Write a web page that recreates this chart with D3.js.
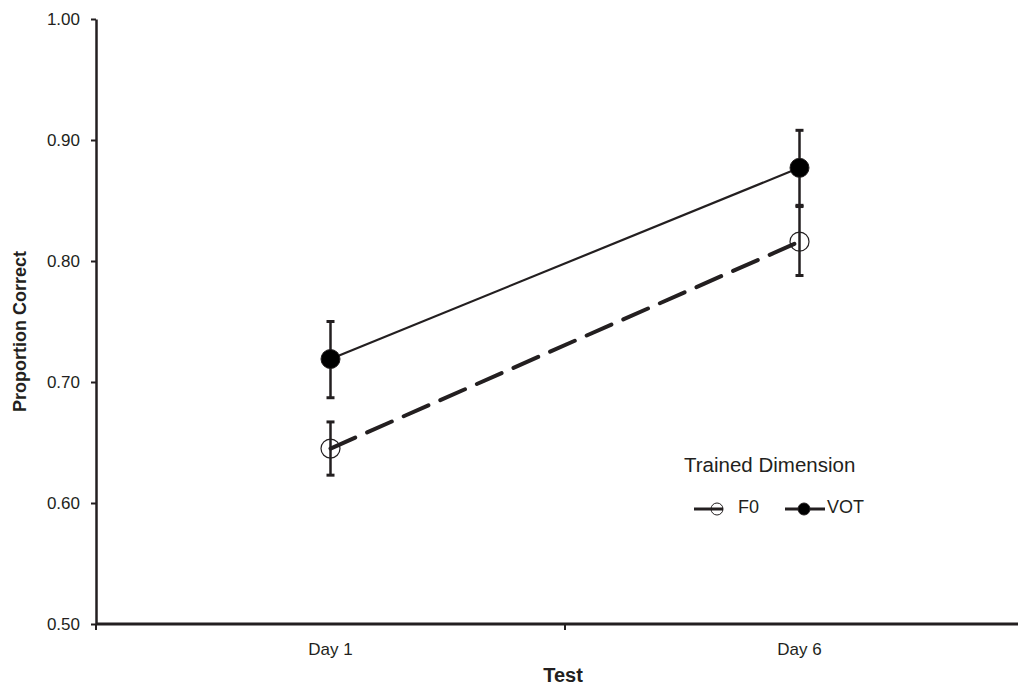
<!DOCTYPE html>
<html>
<head>
<meta charset="utf-8">
<script src="https://cdn.jsdelivr.net/npm/d3@7"></script>
<style>
  body { margin: 0; background: #fff; }
  svg text { font-family: "Liberation Sans", Arial, sans-serif; fill: #231f20; }
</style>
</head>
<body>
<div id="chart"></div>
<script>
// chart data
var days = ["Day 1", "Day 6"];
var seriesNames = ["F0", "VOT"];
var f0Mean = [0.645, 0.816];
var f0Upper = [0.667, 0.845];
var f0Lower = [0.623, 0.788];
var votMean = [0.719, 0.877];
var votUpper = [0.750, 0.908];
var votLower = [0.687, 0.846];
var yTicks = [0.50, 0.60, 0.70, 0.80, 0.90, 1.00];

var width = 1018;
var height = 686;
var margin = {top: 19, bottom: 62, left: 96, right: -16};

var svg = d3.select('#chart')
    .append('svg')
    .attr('width', width)
    .attr('height', height);

var innerW = width - margin.left - margin.right;
var innerH = height - margin.top - margin.bottom;

var g = svg.append('g')
    .attr('transform', 'translate(' + margin.left + ',' + margin.top + ')');

var x = d3.scaleBand()
    .domain(days)
    .range([0, innerW])
    .padding(0);

var y = d3.scaleLinear()
    .domain([0.5, 1.0])
    .range([innerH, 0]);

var ink = "#231f20";

// y axis
var yAxis = d3.axisLeft(y)
    .tickValues(yTicks)
    .tickFormat(d3.format(".2f"))
    .tickSizeInner(5)
    .tickSizeOuter(0);

var yg = g.append('g').attr('class', 'y axis').call(yAxis);
yg.attr('font-size', null).attr('font-family', null);
yg.select('.domain').attr('stroke', ink).attr('stroke-width', 2.5);
yg.selectAll('.tick line').attr('stroke', ink).attr('stroke-width', 2);
yg.selectAll('.tick text')
    .attr('x', -16)
    .style('font-size', '17px')
    .style('fill', ink);

// x axis: ticks on band boundaries, labels at band centres
var xg = g.append('g')
    .attr('class', 'x axis')
    .attr('transform', 'translate(0,' + innerH + ')');

xg.append('line')
    .attr('x1', 0).attr('x2', innerW)
    .attr('stroke', ink).attr('stroke-width', 3);

var bounds = days.map(function(d) { return x(d); }).concat([innerW]);
xg.selectAll('.xtick')
    .data(bounds)
    .enter().append('line')
    .attr('class', 'xtick')
    .attr('x1', function(d) { return d; })
    .attr('x2', function(d) { return d; })
    .attr('y1', 0).attr('y2', 6)
    .attr('stroke', ink).attr('stroke-width', 2);

xg.selectAll('.xlabel')
    .data(days)
    .enter().append('text')
    .attr('class', 'xlabel')
    .attr('x', function(d) { return x(d) + x.bandwidth() / 2; })
    .attr('y', 31)
    .attr('text-anchor', 'middle')
    .style('font-size', '17px')
    .text(function(d) { return d; });

// axis titles
svg.append('text')
    .attr('x', margin.left + innerW / 2 - 2)
    .attr('y', 682)
    .attr('text-anchor', 'middle')
    .style('font-size', '20px')
    .attr('font-weight', 'bold')
    .text('Test');

svg.append('text')
    .attr('transform', 'translate(26,' + (margin.top + innerH / 2 + 10) + ') rotate(-90)')
    .attr('text-anchor', 'middle')
    .style('font-size', '18px')
    .attr('font-weight', 'bold')
    .text('Proportion Correct');

function cx(i) { return x(days[i]) + x.bandwidth() / 2; }

var series = [
    {name: "F0", mean: f0Mean, upper: f0Upper, lower: f0Lower, filled: false, dash: "27,13", sw: 4},
    {name: "VOT", mean: votMean, upper: votUpper, lower: votLower, filled: true, dash: null, sw: 2.2}
];

var line = d3.line()
    .x(function(d, i) { return cx(i); })
    .y(function(d) { return y(d); });

// error bars
series.forEach(function(s) {
    var eb = g.append('g').attr('class', 'err');
    eb.selectAll('line.bar')
        .data(days)
        .enter().append('line')
        .attr('x1', function(d, i) { return cx(i); })
        .attr('x2', function(d, i) { return cx(i); })
        .attr('y1', function(d, i) { return y(s.upper[i]); })
        .attr('y2', function(d, i) { return y(s.lower[i]); })
        .attr('stroke', ink).attr('stroke-width', 2.5);
    ['upper', 'lower'].forEach(function(k) {
        eb.selectAll('line.cap' + k)
            .data(days)
            .enter().append('line')
            .attr('x1', function(d, i) { return cx(i) - 4; })
            .attr('x2', function(d, i) { return cx(i) + 4; })
            .attr('y1', function(d, i) { return y(s[k][i]); })
            .attr('y2', function(d, i) { return y(s[k][i]); })
            .attr('stroke', ink).attr('stroke-width', 3);
    });
});

// lines and markers
series.forEach(function(s) {
    g.append('path')
        .datum(s.mean)
        .attr('fill', 'none')
        .attr('stroke', ink)
        .attr('stroke-width', s.sw)
        .attr('stroke-linecap', s.dash ? 'round' : 'butt')
        .attr('stroke-dasharray', s.dash)
        .attr('d', line);

    g.selectAll('.pt' + s.name)
        .data(s.mean)
        .enter().append('circle')
        .attr('cx', function(d, i) { return cx(i); })
        .attr('cy', function(d) { return y(d); })
        .attr('r', 9.5)
        .attr('fill', s.filled ? '#000' : 'none')
        .attr('stroke', ink)
        .attr('stroke-width', s.filled ? 1 : 1.2);
});

// legend
svg.append('text')
    .attr('x', 684)
    .attr('y', 472)
    .style('font-size', '20.5px')
    .text('Trained Dimension');

var legendX = [694, 785];
var lg = svg.selectAll('.legendItem')
    .data(series)
    .enter().append('g')
    .attr('class', 'legendItem')
    .attr('transform', function(d, i) { return 'translate(' + legendX[i] + ',509)'; });

lg.append('line')
    .attr('x1', 0).attr('x2', function(d, i) { return i === 0 ? 29 : 40; })
    .attr('stroke', ink).attr('stroke-width', 3);

lg.append('circle')
    .attr('cx', function(d, i) { return i === 0 ? 23 : 19; })
    .attr('r', 6)
    .attr('fill', function(d) { return d.filled ? '#000' : 'none'; })
    .attr('stroke', ink)
    .attr('stroke-width', 1);

lg.append('text')
    .attr('x', function(d, i) { return i === 0 ? 44 : 42; })
    .attr('y', 4)
    .style('font-size', '18px')
    .text(function(d) { return d.name; });
</script>
</body>
</html>
